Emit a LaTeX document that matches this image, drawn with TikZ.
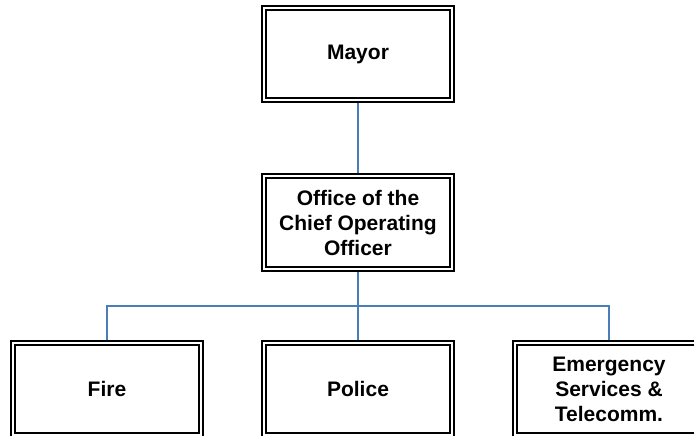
\documentclass[tikz,border=0pt]{standalone}
\usepackage{fontspec}
\setmainfont{Liberation Sans}
\definecolor{linkblue}{HTML}{4A7EBB}
\tikzset{
  x=1pt, y=-1pt,
  orgbox/.style={draw=black, line width=1.3pt, minimum width=192pt, minimum height=96pt,
    inner sep=0pt, align=center, font=\fontsize{21}{25}\selectfont\bfseries, text=black},
  innerline/.style={draw=black, line width=2.6pt},
  link/.style={draw=linkblue, line width=1.8pt}
}
\newcommand{\innerframe}[1]{%
  \draw[innerline] ([xshift=4.5pt,yshift=-4.5pt]#1.north west) rectangle ([xshift=-4.5pt,yshift=4.5pt]#1.south east);}
\begin{document}
\begin{tikzpicture}
\useasboundingbox (0,0) rectangle (694,436);
\clip (0,0) rectangle (694,436);
\fill[white] (0,0) rectangle (694,436);
\node[orgbox] (mayor) at (358,54) {Mayor};
\node[orgbox, minimum height=97pt] (coo) at (358,222.5) {Office of the\\Chief Operating\\Officer};
\node[orgbox] (fire) at (107,389) {Fire};
\node[orgbox] (police) at (358,389) {Police};
\node[orgbox] (emerg) at (609,389) {Emergency\\Services \&\\Telecomm.};
\innerframe{mayor}
\innerframe{coo}
\innerframe{fire}
\innerframe{police}
\innerframe{emerg}
\coordinate (junction) at (358,306);
\draw[link] (mayor.south) -- (coo.north);
\draw[link] (coo.south) -- (junction);
\draw[link] (junction) -- (police.north);
\draw[link] (fire.north) |- (junction) -| (emerg.north);
\end{tikzpicture}
\end{document}
